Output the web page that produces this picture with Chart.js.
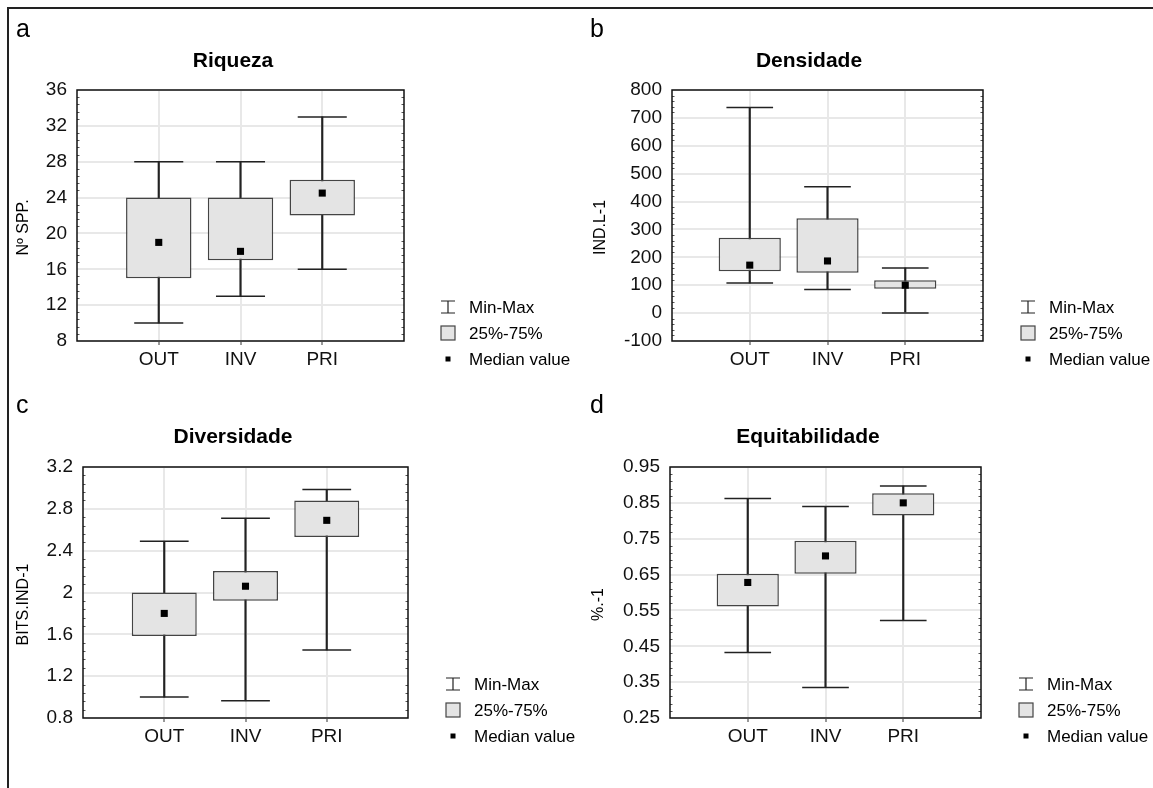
<!DOCTYPE html>
<html><head><meta charset="utf-8">
<script src="https://cdn.jsdelivr.net/npm/chart.js@4.4.1/dist/chart.umd.min.js"></script>
<style>
html,body{margin:0;padding:0;background:#fff;}
#wrap{position:relative;width:1153px;height:788px;overflow:hidden;background:#fff;}
#frame{position:absolute;left:7px;top:7px;width:1200px;height:900px;border-left:2px solid #222;border-top:2px solid #222;}
canvas{position:absolute;left:0;top:0;}
</style></head><body>
<div id="wrap"><div id="frame"></div>
<canvas id="ca" width="1153" height="788"></canvas>
<canvas id="cb" width="1153" height="788"></canvas>
<canvas id="cc" width="1153" height="788"></canvas>
<canvas id="cd" width="1153" height="788"></canvas>
</div>
<script>
// ---------- DATA ----------
const categories = ['OUT', 'INV', 'PRI'];
const legendLabels = ['Min-Max', '25%-75%', 'Median value'];

const riquezaMin    = [10, 13, 16];
const riquezaQ1     = [15, 17, 22];
const riquezaMedian = [19, 18, 24.5];
const riquezaQ3     = [24, 24, 26];
const riquezaMax    = [28, 28, 33];
const riquezaTicks  = ['8', '12', '16', '20', '24', '28', '32', '36'];

const densidadeMin    = [108, 85, 0];
const densidadeQ1     = [150, 145, 87];
const densidadeMedian = [172, 187, 100];
const densidadeQ3     = [270, 340, 118];
const densidadeMax    = [737, 453, 162];
const densidadeTicks  = ['-100', '0', '100', '200', '300', '400', '500', '600', '700', '800'];

const diversidadeMin    = [1.0, 0.965, 1.45];
const diversidadeQ1     = [1.585, 1.92, 2.53];
const diversidadeMedian = [1.80, 2.06, 2.69];
const diversidadeQ3     = [2.0, 2.205, 2.88];
const diversidadeMax    = [2.49, 2.71, 2.985];
const diversidadeTicks  = ['0.8', '1.2', '1.6', '2', '2.4', '2.8', '3.2'];

const equitMin    = [0.433, 0.335, 0.522];
const equitQ1     = [0.561, 0.652, 0.815];
const equitMedian = [0.628, 0.702, 0.85];
const equitQ3     = [0.652, 0.744, 0.877];
const equitMax    = [0.862, 0.84, 0.897];
const equitTicks  = ['0.25', '0.35', '0.45', '0.55', '0.65', '0.75', '0.85', '0.95'];

// ---------- STYLE / LAYOUT ----------
const FONT = '"Liberation Sans", Arial, Helvetica, sans-serif';
Chart.defaults.font.family = FONT;
Chart.defaults.color = '#111';
const W = 1153, H = 788, YW = 60, XH = 40;

const decoPlugin = {
  id: 'deco',
  afterDatasetsDraw(chart, args, o) {
    const { ctx, chartArea: a } = chart;
    const y = chart.scales.y;
    ctx.save();
    const t = o.ticks.map(parseFloat);
    const step = t[1] - t[0];
    const div = 5;
    ctx.strokeStyle = '#555';
    ctx.lineWidth = 1;
    for (let k = 1; k < (t.length - 1) * div; k++) {
      if (k % div === 0) continue;
      const py = Math.round(y.getPixelForValue(t[0] + k * step / div)) + 0.5;
      ctx.beginPath();
      ctx.moveTo(a.left, py); ctx.lineTo(a.left + 2.5, py);
      ctx.moveTo(a.right - 2.5, py); ctx.lineTo(a.right, py);
      ctx.stroke();
    }
    ctx.strokeStyle = '#111';
    ctx.lineWidth = 1.5;
    ctx.strokeRect(a.left, a.top, a.right - a.left, a.bottom - a.top);
    ctx.restore();
  },
  afterDraw(chart, args, o) {
    const { ctx, chartArea: a } = chart;
    ctx.save();
    ctx.fillStyle = '#000';
    // panel letter
    ctx.font = '25px ' + FONT;
    ctx.textAlign = 'left'; ctx.textBaseline = 'alphabetic';
    ctx.fillText(o.letter, o.letterX, o.letterY);
    // title
    ctx.font = 'bold 21px ' + FONT;
    ctx.textAlign = 'center';
    ctx.fillText(o.title, o.titleX, o.titleY);
    // y title
    ctx.font = '16px ' + FONT;
    ctx.save();
    ctx.translate(o.yTitleX, (a.top + a.bottom) / 2 + 12);
    ctx.rotate(-Math.PI / 2);
    ctx.textAlign = 'center'; ctx.textBaseline = 'middle';
    ctx.fillText(o.yTitle, 0, 0);
    ctx.restore();
    // legend
    const tx = o.legendX, cx = tx - 21;
    const rows = [a.bottom - 34, a.bottom - 8, a.bottom + 18];
    ctx.font = '17px ' + FONT;
    ctx.textAlign = 'left'; ctx.textBaseline = 'middle';
    rows.forEach((ry, i) => ctx.fillText(legendLabels[i], tx, ry + 1));
    // whisker icon
    ctx.strokeStyle = '#222'; ctx.lineWidth = 1.2;
    ctx.beginPath();
    ctx.moveTo(cx, rows[0] - 6); ctx.lineTo(cx, rows[0] + 6);
    ctx.moveTo(cx - 7, rows[0] - 6); ctx.lineTo(cx + 7, rows[0] - 6);
    ctx.moveTo(cx - 7, rows[0] + 6); ctx.lineTo(cx + 7, rows[0] + 6);
    ctx.stroke();
    // box icon
    ctx.fillStyle = '#e4e4e4';
    ctx.fillRect(cx - 7, rows[1] - 7, 14, 14);
    ctx.strokeStyle = '#444';
    ctx.strokeRect(cx - 7, rows[1] - 7, 14, 14);
    // median icon
    ctx.fillStyle = '#000';
    ctx.fillRect(cx - 2.5, rows[2] - 2.5, 5, 5);
    ctx.restore();
  }
};

function makePanel(id, g, deco, mins, q1, med, q3, maxs, ticks) {
  const pts = arr => arr.map((v, i) => ({ x: i + 1, y: v }));
  const capRadius = ctx => {
    const s = ctx.chart.scales.x;
    return (s.getPixelForValue(1) - s.getPixelForValue(0)) * 0.3;
  };
  return new Chart(document.getElementById(id), {
    type: 'bar',
    data: {
      datasets: [
        { type: 'line', label: 'median', data: pts(med), showLine: false,
          pointStyle: 'rect', pointRadius: 5, pointBackgroundColor: '#000',
          pointBorderWidth: 0, order: 0 },
        { type: 'bar', label: 'box', data: q1.map((v, i) => ({ x: i + 1, y: [v, q3[i]] })),
          backgroundColor: '#e4e4e4', borderColor: '#444', borderWidth: 1.5,
          borderSkipped: false, barPercentage: 0.8, categoryPercentage: 1,
          grouped: false, order: 1 },
        { type: 'line', label: 'caps', data: pts(mins).concat(pts(maxs)), showLine: false,
          pointStyle: 'line', pointRadius: capRadius, pointBorderColor: '#222',
          pointBorderWidth: 1.5, order: 2 },
        { type: 'bar', label: 'whisker', data: mins.map((v, i) => ({ x: i + 1, y: [v, maxs[i]] })),
          backgroundColor: '#222', barThickness: 1.5, grouped: false, order: 3 }
      ]
    },
    options: {
      responsive: false, animation: false, events: [],
      devicePixelRatio: 1,
      layout: { padding: { left: g.L - YW, top: g.T, right: W - g.R, bottom: H - g.B - XH } },
      plugins: { legend: { display: false }, tooltip: { enabled: false }, deco: deco },
      scales: {
        x: {
          type: 'linear', min: 0, max: 4, offset: false,
          afterBuildTicks: s => { s.ticks = [0, 1, 2, 3, 4].map(v => ({ value: v })); },
          afterFit: s => { s.height = XH; },
          ticks: { maxRotation: 0, autoSkip: false, padding: 3,
                   font: { size: 19 }, color: '#111',
                   callback: (v, i) => (i >= 1 && i <= 3) ? categories[i - 1] : '' },
          grid: { offset: false, lineWidth: 2, tickLength: 4, tickWidth: 1,
                  color: c => (c.index >= 1 && c.index <= 3) ? '#e8e8e8' : 'rgba(0,0,0,0)',
                  tickColor: c => (c.index >= 1 && c.index <= 3) ? '#333' : 'rgba(0,0,0,0)' },
          border: { display: false }
        },
        y: {
          type: 'linear',
          min: parseFloat(ticks[0]), max: parseFloat(ticks[ticks.length - 1]),
          afterBuildTicks: s => { s.ticks = ticks.map(t => ({ value: parseFloat(t) })); },
          afterFit: s => { s.width = YW; },
          ticks: { padding: 10, font: { size: 19 }, color: '#111',
                   callback: (v, i) => ticks[i] },
          grid: { lineWidth: 2, color: '#e8e8e8', drawTicks: false },
          border: { display: false }
        }
      }
    },
    plugins: [decoPlugin]
  });
}

makePanel('ca', { L: 77, T: 90, R: 404, B: 341 },
  { letter: 'a', letterX: 16, letterY: 37, title: 'Riqueza', titleX: 233, titleY: 67,
    yTitle: 'Nº SPP.', yTitleX: 24, legendX: 469, ticks: riquezaTicks },
  riquezaMin, riquezaQ1, riquezaMedian, riquezaQ3, riquezaMax, riquezaTicks);

makePanel('cb', { L: 672, T: 90, R: 983, B: 341 },
  { letter: 'b', letterX: 590, letterY: 37, title: 'Densidade', titleX: 809, titleY: 67,
    yTitle: 'IND.L-1', yTitleX: 601, legendX: 1049, ticks: densidadeTicks },
  densidadeMin, densidadeQ1, densidadeMedian, densidadeQ3, densidadeMax, densidadeTicks);

makePanel('cc', { L: 83, T: 467, R: 408, B: 718 },
  { letter: 'c', letterX: 16, letterY: 413, title: 'Diversidade', titleX: 233, titleY: 443,
    yTitle: 'BITS.IND-1', yTitleX: 24, legendX: 474, ticks: diversidadeTicks },
  diversidadeMin, diversidadeQ1, diversidadeMedian, diversidadeQ3, diversidadeMax, diversidadeTicks);

makePanel('cd', { L: 670, T: 467, R: 981, B: 718 },
  { letter: 'd', letterX: 590, letterY: 413, title: 'Equitabilidade', titleX: 808, titleY: 443,
    yTitle: '%.-1', yTitleX: 599, legendX: 1047, ticks: equitTicks },
  equitMin, equitQ1, equitMedian, equitQ3, equitMax, equitTicks);
</script>
</body></html>
